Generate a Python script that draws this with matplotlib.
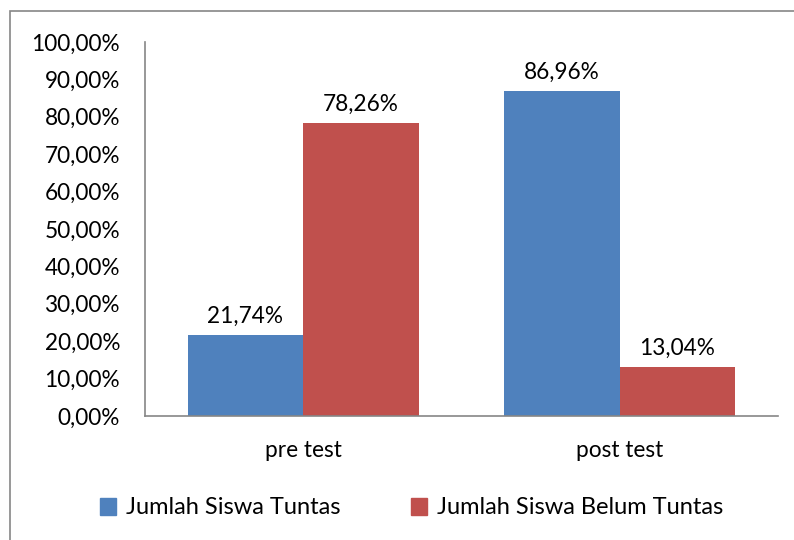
import matplotlib
matplotlib.use("Agg")
import matplotlib.pyplot as plt
from matplotlib.patches import Rectangle, Patch
import numpy as np

categories = ["pre test", "post test"]
series_names = ["Jumlah Siswa Tuntas", "Jumlah Siswa Belum Tuntas"]
tuntas = [21.74, 86.96]
belum = [78.26, 13.04]
colors = ["#4F81BD", "#C0504D"]

plt.rcParams['font.family'] = ['Lato', 'DejaVu Sans']
fs = 16.3

fig = plt.figure(figsize=(7.94, 5.40), dpi=100)
ax = fig.add_axes([145/794, 1-416/540, (778-145)/794, (416-42)/540])

x = np.arange(len(categories))
w = 0.365
b1 = ax.bar(x - w/2, tuntas, w, color=colors[0])
b2 = ax.bar(x + w/2, belum, w, color=colors[1])

def fmt(v):
    return f"{v:.2f}".replace(".", ",") + "%"

for bars, vals in ((b1, tuntas), (b2, belum)):
    for r, v in zip(bars, vals):
        ax.annotate(fmt(v), (r.get_x() + r.get_width()/2, v), xytext=(0, 6),
                    textcoords="offset points", ha="center", va="bottom", fontsize=fs)

ax.set_xlim(-0.5, 1.5)
ax.set_ylim(0, 100)
ax.set_yticks(np.arange(0, 101, 10))
ax.set_yticklabels([fmt(v) for v in np.arange(0, 101, 10)], fontsize=fs)
ax.set_xticks(x)
ax.set_xticklabels(categories, fontsize=fs)
ax.tick_params(axis="y", length=0, pad=18)
ax.tick_params(axis="x", length=0, pad=17)
for s in ("top", "right"):
    ax.spines[s].set_visible(False)
for s in ("left", "bottom"):
    ax.spines[s].set_color("#868686")
    ax.spines[s].set_linewidth(1.2)

handles = [Patch(color=c) for c in colors]
fig.legend(handles, series_names, loc="center", bbox_to_anchor=(0.518, 1-508/540),
           ncol=2, frameon=False, fontsize=17, handlelength=0.7, handleheight=0.7,
           handletextpad=0.4, columnspacing=3.0)

fig.patches.append(Rectangle((10/794, -0.1), 1.2, 1-11/540+0.1, transform=fig.transFigure,
                             fill=False, edgecolor="#868686", linewidth=1.2))

fig.savefig("out.png", dpi=100)
